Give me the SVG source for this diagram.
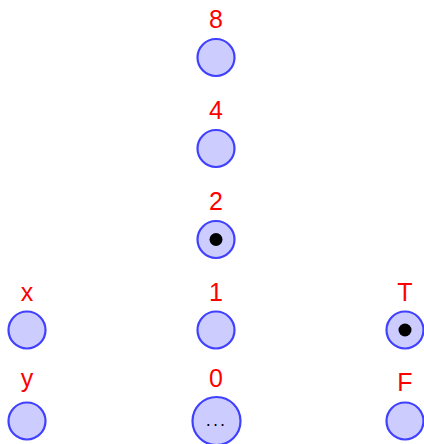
<svg xmlns="http://www.w3.org/2000/svg" width="424" height="444" viewBox="0 0 424 444">
<style>
.n{fill:#ccccff;stroke:#4040ff;stroke-width:2.2}
.l{fill:#ff0000;font-family:"Liberation Sans",sans-serif;font-size:25px;text-anchor:middle}
.d{fill:#000}
</style>
<rect width="424" height="444" fill="#fff"/>
<g id="connectors"></g>
<g id="n8"><text class="l" x="216" y="28">8</text><circle class="n" cx="216" cy="57.5" r="18.5"/></g>
<g id="n4"><text class="l" x="216" y="119">4</text><circle class="n" cx="216" cy="148.5" r="18.5"/></g>
<g id="n2"><text class="l" x="216" y="210">2</text><circle class="n" cx="216" cy="239.5" r="18.5"/><circle class="d" cx="216" cy="239.5" r="6.5"/></g>
<g id="n1"><text class="l" x="216" y="301">1</text><circle class="n" cx="216" cy="330" r="18.5"/></g>
<g id="n0"><text class="l" x="216" y="387">0</text><circle class="n" cx="216.5" cy="421" r="24"/><text x="216.5" y="426" font-family="DejaVu Sans, sans-serif" font-size="16" text-anchor="middle" fill="#000" letter-spacing="2">...</text></g>
<g id="nx"><text class="l" x="27" y="301">x</text><circle class="n" cx="27" cy="330" r="18.5"/></g>
<g id="ny"><text class="l" x="27" y="387">y</text><circle class="n" cx="27" cy="421" r="18.5"/></g>
<g id="nT"><text class="l" x="405" y="301">T</text><circle class="n" cx="405" cy="330" r="18.5"/><circle class="d" cx="405" cy="330" r="6.5"/></g>
<g id="nF"><text class="l" x="405" y="391">F</text><circle class="n" cx="405" cy="421" r="18.5"/></g>
</svg>
